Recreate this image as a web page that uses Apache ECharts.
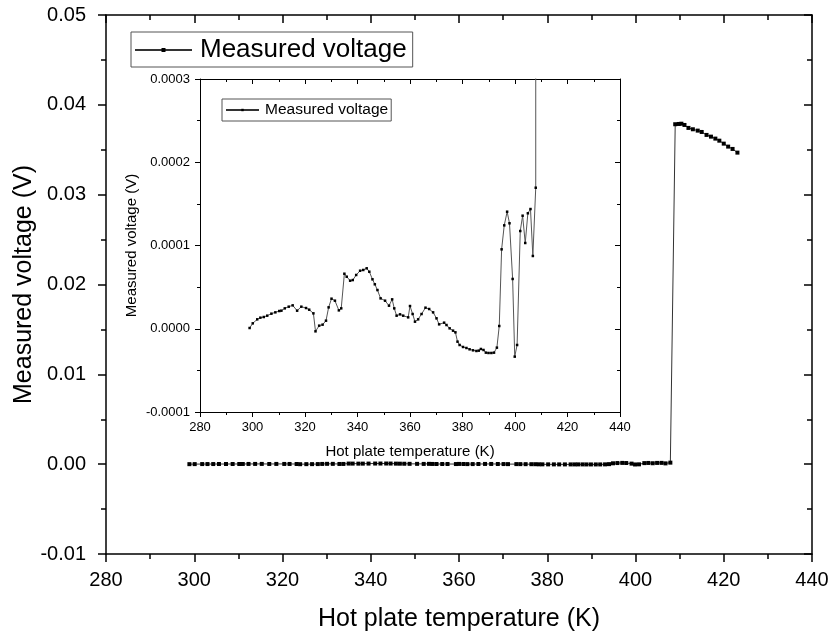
<!DOCTYPE html>
<html>
<head>
<meta charset="utf-8">
<script src="https://cdn.jsdelivr.net/npm/echarts@6/dist/echarts.min.js"></script>
<style>
html,body{margin:0;padding:0;background:#fff;}
#chart{width:832px;height:639px;}
</style>
</head>
<body>
<div id="chart"></div>
<script>
// Hot plate temperature (K)
const temps = [
  298.9, 300.1, 301.8, 303.0, 304.3, 305.6, 307.2, 308.7, 310.2, 311.0,
  312.3, 313.8, 315.3, 317.0, 318.6, 320.4, 321.6, 323.2, 324.0, 325.4,
  326.7, 328.0, 329.0, 330.1, 331.4, 332.9, 333.8, 335.0, 335.9, 337.2,
  338.2, 339.5, 341.0, 342.2, 343.5, 344.5, 345.7, 346.6, 347.6, 348.8,
  350.5, 352.0, 353.2, 354.0, 354.9, 356.2, 357.4, 359.3, 360.0, 361.0,
  361.9, 363.1, 364.4, 365.9, 367.3, 368.8, 370.1, 371.1, 373.0, 373.9,
  375.1, 376.4, 377.3, 378.1, 378.9, 380.2, 381.5, 382.7, 384.0, 385.3,
  386.2, 387.0, 388.0, 388.9, 389.9, 391.0, 392.0, 393.1, 394.0, 394.9,
  395.9, 397.0, 397.9, 399.1, 399.9, 400.8, 402.0, 402.9, 403.9, 404.9,
  405.9, 406.8, 407.9,
  409.0, 409.8, 410.4, 411.1, 412.0, 413.0, 414.1, 415.0, 416.1, 417.1,
  418.1, 419.0, 420.0, 421.0, 422.0, 423.1
];
// Measured voltage (V)
const volts = [
  0.9e-6, 6.5e-6, 11.3e-6, 13.3e-6, 14.1e-6, 15.7e-6, 18.1e-6, 19.7e-6, 21.3e-6, 21.7e-6,
  24.5e-6, 26.5e-6, 28.1e-6, 21.7e-6, 26.5e-6, 24.9e-6, 22.9e-6, 18.5e-6, -3.1e-6, 3.7e-6,
  4.9e-6, 9.7e-6, 25.7e-6, 36.1e-6, 33.7e-6, 22.1e-6, 24.5e-6, 66.1e-6, 62.5e-6, 57.7e-6,
  58.5e-6, 64.6e-6, 69.7e-6, 70.6e-6, 72.6e-6, 68.5e-6, 59.4e-6, 53.4e-6, 46.5e-6, 36.5e-6,
  33.7e-6, 27.7e-6, 35.3e-6, 24.5e-6, 15.7e-6, 17.3e-6, 15.7e-6, 13.7e-6, 27.3e-6, 17.7e-6,
  8.5e-6, 11.3e-6, 17.7e-6, 25.3e-6, 23.7e-6, 19.7e-6, 12.5e-6, 5.3e-6, 7.3e-6, 4.5e-6,
  0.5e-6, -2.3e-6, -4.3e-6, -15.5e-6, -19.5e-6, -21.9e-6, -23.1e-6, -24.7e-6, -25.9e-6, -26.7e-6,
  -26.3e-6, -24.3e-6, -25.5e-6, -28.7e-6, -29.1e-6, -29.1e-6, -28.7e-6, -22.7e-6, 3.3e-6, 95.4e-6,
  124.2e-6, 140.6e-6, 126.7e-6, 59.8e-6, -33.5e-6, -19.5e-6, 117.4e-6, 135.8e-6, 103.0e-6, 138.7e-6,
  143.8e-6, 87.4e-6, 169.4e-6,
  0.03784, 0.03787, 0.03790, 0.03776, 0.03743, 0.03728, 0.03713, 0.03698, 0.03665, 0.03646,
  0.03624, 0.03601, 0.03568, 0.03535, 0.03509, 0.03468
];
const seriesName = 'Measured voltage';
const xTitle = 'Hot plate temperature (K)';
const yTitle = 'Measured voltage (V)';
const xMin = 280, xMax = 440, xStep = 20;
const yMainMin = -0.01, yMainMax = 0.05, yMainStep = 0.01;
const yInsetMin = -0.0001, yInsetMax = 0.0003, yInsetStep = 0.0001;

const points = temps.map((t, i) => [t, volts[i]]);
const FONT = 'Liberation Sans, Arial, sans-serif';

function xAx(grid, pos, main) {
  const show = pos === 'bottom';
  return {
    gridIndex: grid, type: 'value', position: pos,
    min: xMin, max: xMax, interval: xStep,
    axisLine: { show: true, onZero: false, lineStyle: { color: '#000', width: main ? 1.5 : 1 } },
    axisTick: { show: true, inside: !show, length: main ? 8 : 5, lineStyle: { color: '#000', width: main ? 1.5 : 1 } },
    minorTick: { show: true, splitNumber: 2, length: main ? 5 : 3, lineStyle: { color: '#000', width: main ? 1.5 : 1 } },
    splitLine: { show: false },
    axisLabel: { show: show, color: '#000', fontFamily: FONT, fontSize: main ? 20 : 13, margin: main ? 16 : 9 },
    name: show ? xTitle : '', nameLocation: 'middle', nameGap: main ? 53 : 32, nameMoveOverlap: false,
    nameTextStyle: { color: '#000', fontFamily: FONT, fontSize: main ? 25 : 15 }
  };
}
function yAx(grid, pos, main) {
  const show = pos === 'left';
  return {
    gridIndex: grid, type: 'value', position: pos,
    min: main ? yMainMin : yInsetMin, max: main ? yMainMax : yInsetMax,
    interval: main ? yMainStep : yInsetStep,
    axisLine: { show: true, onZero: false, lineStyle: { color: '#000', width: main ? 1.5 : 1 } },
    axisTick: { show: true, inside: !show, length: main ? 8 : 5, lineStyle: { color: '#000', width: main ? 1.5 : 1 } },
    minorTick: { show: true, splitNumber: 2, length: main ? 5 : 3, lineStyle: { color: '#000', width: main ? 1.5 : 1 } },
    splitLine: { show: false },
    axisLabel: { show: show, color: '#000', fontFamily: FONT, fontSize: main ? 20 : 13, margin: main ? 20 : 10,
      formatter: v => v.toFixed(main ? 2 : 4) },
    name: show ? yTitle : '', nameLocation: 'middle', nameGap: main ? 69 : 61, nameMoveOverlap: false,
    nameTextStyle: { color: '#000', fontFamily: FONT, fontSize: main ? 25 : 15 }
  };
}

const chart = echarts.init(document.getElementById('chart'), null, { renderer: 'canvas' });
chart.setOption({
  animation: false,
  backgroundColor: '#fff',
  grid: [
    { left: 106, right: 20, top: 15, bottom: 85, outerBoundsMode: 'none' },
    { left: 200, width: 420, top: 79, height: 333, outerBoundsMode: 'none' }
  ],
  xAxis: [xAx(0, 'bottom', true), xAx(0, 'top', true), xAx(1, 'bottom', false), xAx(1, 'top', false)],
  yAxis: [yAx(0, 'left', true), yAx(0, 'right', true), yAx(1, 'left', false), yAx(1, 'right', false)],
  legend: [
    {
      data: [seriesName], left: 131, top: 32, orient: 'horizontal',
      selectedMode: false, borderColor: '#555', borderWidth: 1, borderRadius: 0,
      padding: [5, 6, 4, 3], itemWidth: 57, itemHeight: 5,
      textStyle: { color: '#000', fontFamily: FONT, fontSize: 26, padding: [0, 0, 0, 3] }
    },
    {
      data: [seriesName], left: 222, top: 99, orient: 'horizontal',
      selectedMode: false, borderColor: '#555', borderWidth: 1, borderRadius: 0,
      padding: [3, 3, 3, 3], itemWidth: 33, itemHeight: 3,
      textStyle: { color: '#000', fontFamily: FONT, fontSize: 15.5, padding: [0, 0, 0, 1] }
    }
  ],
  series: [
    {
      name: seriesName, type: 'line', xAxisIndex: 0, yAxisIndex: 0, data: points,
      symbol: 'rect', symbolSize: 4, showAllSymbol: true, clip: true,
      lineStyle: { color: '#333', width: 1 }, itemStyle: { color: '#000' }
    },
    {
      name: seriesName, type: 'line', xAxisIndex: 2, yAxisIndex: 2, data: points,
      symbol: 'rect', symbolSize: 2.5, showAllSymbol: true, clip: true,
      lineStyle: { color: '#555', width: 1 }, itemStyle: { color: '#000' }
    }
  ]
});
</script>
</body>
</html>
